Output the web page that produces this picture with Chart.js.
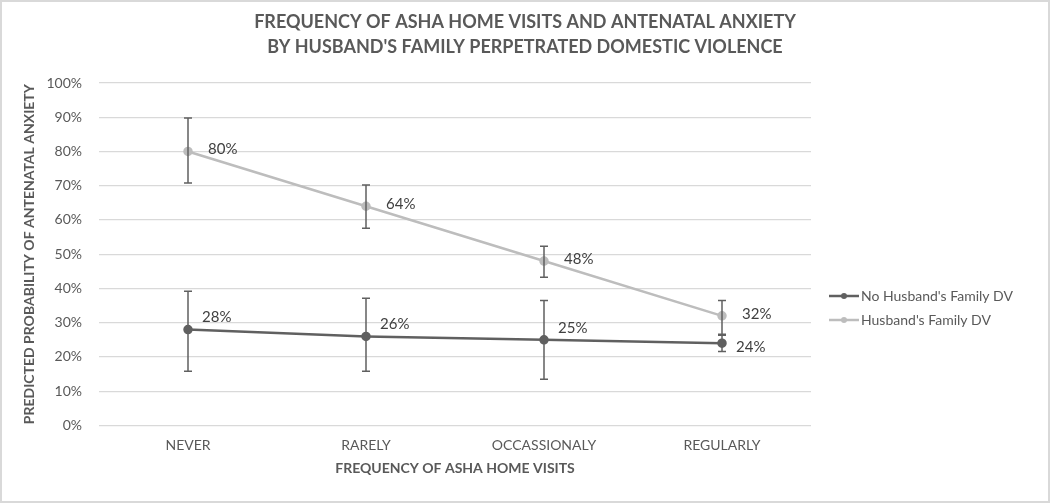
<!DOCTYPE html>
<html>
<head>
<meta charset="utf-8">
<script src="https://cdn.jsdelivr.net/npm/chart.js@4.4.0/dist/chart.umd.min.js"></script>
<style>
  html, body { margin: 0; padding: 0; background: #ffffff; }
  #wrap { width: 1050px; height: 503px; position: relative; }
</style>
</head>
<body>
<div id="wrap"><canvas id="grafico"></canvas></div>
<script>
// categorias y valores
const categorias = ['NEVER', 'RARELY', 'OCCASSIONALY', 'REGULARLY'];
const serieNombres = ["No Husband's Family DV", "Husband's Family DV"];
const sinViolencia = [28, 26, 25, 24];
const sinViolenciaAlto = [39.2, 37.1, 36.5, 26.3];
const sinViolenciaBajo = [15.8, 15.8, 13.5, 21.6];
const conViolencia = [80, 64, 48, 32];
const conViolenciaAlto = [89.8, 70.2, 52.3, 36.5];
const conViolenciaBajo = [70.8, 57.6, 43.3, 26.6];
const ticksY = [0, 10, 20, 30, 40, 50, 60, 70, 80, 90, 100];

const oscuro = '#606060';
const claro = '#bdbdbd';
const textoGris = '#595959';
const fuente = 'Lato, "Open Sans", sans-serif';

// dibuja barras de error, etiquetas, titulo, leyenda y borde
const extras = {
  id: 'extras',
  afterDatasetsDraw(chart) {
    const ctx = chart.ctx;
    const x = chart.scales.x, y = chart.scales.y;
    const errores = [[sinViolenciaAlto, sinViolenciaBajo], [conViolenciaAlto, conViolenciaBajo]];
    ctx.save();
    ctx.strokeStyle = oscuro;
    ctx.lineWidth = 1.5;
    errores.forEach(function (e) {
      categorias.forEach(function (c, i) {
        const px = x.getPixelForValue(i);
        const y1 = y.getPixelForValue(e[0][i]);
        const y2 = y.getPixelForValue(e[1][i]);
        ctx.beginPath();
        ctx.moveTo(px, y1); ctx.lineTo(px, y2);
        ctx.moveTo(px - 4, y1); ctx.lineTo(px + 4, y1);
        ctx.moveTo(px - 4, y2); ctx.lineTo(px + 4, y2);
        ctx.stroke();
      });
    });
    // etiquetas de datos
    ctx.fillStyle = '#404040';
    ctx.font = '15px ' + fuente;
    ctx.textAlign = 'left';
    ctx.textBaseline = 'middle';
    const series = [sinViolencia, conViolencia];
    const desplaza = [-12, -2];
    series.forEach(function (s, k) {
      s.forEach(function (v, i) {
        const px = x.getPixelForValue(i);
        let py = y.getPixelForValue(v) + desplaza[k];
        if (k === 0 && i === 3) py = y.getPixelForValue(v) + 4;
        ctx.fillText(v + '%', px + (k === 0 ? 14 : 20), py);
      });
    });
    ctx.restore();
  },
  afterDraw(chart) {
    const ctx = chart.ctx;
    ctx.save();
    // titulo
    ctx.fillStyle = textoGris;
    ctx.font = 'bold 18px ' + fuente;
    ctx.textAlign = 'center';
    ctx.textBaseline = 'middle';
    ctx.fillText('FREQUENCY OF ASHA HOME VISITS AND ANTENATAL ANXIETY', 525, 22);
    ctx.fillText("BY HUSBAND'S FAMILY PERPETRATED DOMESTIC VIOLENCE", 525, 47);
    // leyenda
    const colores = [oscuro, claro];
    ctx.font = '14px ' + fuente;
    ctx.textAlign = 'left';
    serieNombres.forEach(function (n, i) {
      const ly = 296 + i * 24;
      ctx.strokeStyle = colores[i];
      ctx.lineWidth = 2.5;
      ctx.beginPath(); ctx.moveTo(829, ly); ctx.lineTo(859, ly); ctx.stroke();
      ctx.fillStyle = colores[i];
      ctx.beginPath(); ctx.arc(844, ly, 3, 0, Math.PI * 2); ctx.fill();
      ctx.fillStyle = textoGris;
      ctx.fillText(n, 861, ly);
    });
    // borde
    ctx.strokeStyle = '#d9d9d9';
    ctx.lineWidth = 2;
    ctx.strokeRect(1, 1, 1048, 501);
    ctx.restore();
  }
};

new Chart(document.getElementById('grafico'), {
  type: 'line',
  data: {
    labels: categorias,
    datasets: [{
      label: serieNombres[0],
      data: sinViolencia,
      borderColor: oscuro,
      backgroundColor: oscuro,
      borderWidth: 2.5,
      pointRadius: 3.5,
      pointHoverRadius: 3.5
    }, {
      label: serieNombres[1],
      data: conViolencia,
      borderColor: claro,
      backgroundColor: claro,
      borderWidth: 2.5,
      pointRadius: 3.5,
      pointHoverRadius: 3.5
    }]
  },
  options: {
    responsive: true,
    maintainAspectRatio: false,
    animation: false,
    layout: { padding: { top: 83, right: 239, bottom: 26, left: 21 } },
    plugins: {
      legend: { display: false },
      title: { display: false },
      tooltip: { enabled: false }
    },
    scales: {
      x: {
        offset: true,
        grid: { display: false },
        border: { display: false },
        ticks: { color: textoGris, font: { family: fuente, size: 14 }, padding: 4 },
        title: {
          display: true,
          text: 'FREQUENCY OF ASHA HOME VISITS',
          color: textoGris,
          font: { family: fuente, size: 14, weight: 'bold' },
          padding: { top: 2, bottom: 0 }
        }
      },
      y: {
        min: 0,
        max: 100,
        afterBuildTicks: function (s) { s.ticks = ticksY.map(function (v) { return { value: v }; }); },
        afterFit: function (s) { s.width = 78; },
        grid: { color: '#d9d9d9', lineWidth: 1.3, drawTicks: false },
        border: { display: false },
        ticks: {
          color: textoGris,
          font: { family: fuente, size: 14 },
          padding: 17,
          callback: function (v) { return v + '%'; }
        },
        title: {
          display: true,
          text: 'PREDICTED PROBABILITY OF ANTENATAL ANXIETY',
          color: textoGris,
          font: { family: fuente, size: 14, weight: 'bold' },
          padding: { top: 0, bottom: 2 }
        }
      }
    }
  },
  plugins: [extras]
});
</script>
</body>
</html>
